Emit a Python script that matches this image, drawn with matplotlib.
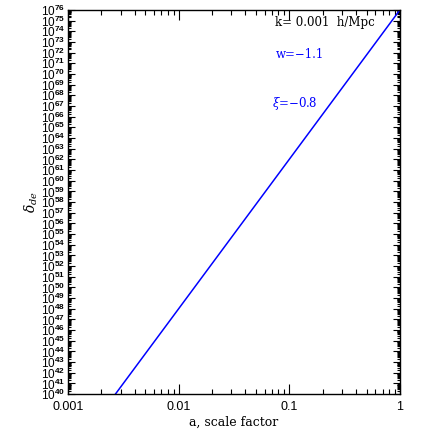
import numpy as np
import matplotlib.pyplot as plt
from matplotlib.ticker import LogLocator, FixedLocator, FixedFormatter, NullFormatter

# values: delta_de vs scale factor
a = [0.00268, 0.01, 0.1, 1.0]
log_delta = [40, 48, 62, 76]
delta = [10.0**v for v in log_delta]

ydecades = list(range(40, 77))
xticks = [0.001, 0.01, 0.1, 1]
xlabels = ["0.001", "0.01", "0.1", "1"]

plt.rcParams["mathtext.fontset"] = "custom"
plt.rcParams["mathtext.rm"] = "Liberation Sans"
plt.rcParams["mathtext.it"] = "DejaVu Serif:italic"
plt.rcParams["mathtext.bf"] = "Liberation Sans:bold"

fig = plt.figure(figsize=(4.36, 4.36), dpi=100)
ax = fig.add_axes([0.156, 0.096, 0.761, 0.881])

ax.plot(a, delta, color="#0000ff", lw=1.1)

ax.set_xscale("log")
ax.set_yscale("log")
ax.set_xlim(0.001, 1)
ax.set_ylim(1e40, 1e76)

ax.xaxis.set_major_locator(FixedLocator(xticks))
ax.xaxis.set_major_formatter(FixedFormatter(xlabels))
ax.xaxis.set_minor_locator(LogLocator(base=10, subs=np.arange(2, 10), numticks=20))
ax.xaxis.set_minor_formatter(NullFormatter())

ax.yaxis.set_major_locator(FixedLocator([10.0**d for d in ydecades]))
ax.yaxis.set_major_formatter(FixedFormatter([r"$\mathrm{10}^{\mathbf{%d}}$" % d for d in ydecades]))
ax.yaxis.set_minor_locator(LogLocator(base=10, subs=np.arange(2, 10), numticks=100))
ax.yaxis.set_minor_formatter(NullFormatter())

ax.tick_params(which="both", direction="in", top=True, right=True, width=0.8)
ax.tick_params(axis="x", which="major", length=7)
ax.tick_params(axis="x", which="minor", length=3.5)
ax.tick_params(axis="y", which="major", length=5)
ax.tick_params(axis="y", which="minor", length=2.5)
ax.tick_params(axis="y", labelsize=8.5, pad=2)
ax.tick_params(axis="x", labelsize=9, pad=5)
for lab in ax.get_xticklabels():
    lab.set_family("Liberation Sans")
for s in ax.spines.values():
    s.set_linewidth(1.0)

ax.set_xlabel("a, scale factor", family="DejaVu Serif", fontsize=9, labelpad=2)
ax.set_ylabel(r"$\delta_{de}$", fontsize=10, labelpad=1)

ax.text(0.625, 0.985, "k= 0.001  h/Mpc", transform=ax.transAxes, family="DejaVu Serif",
        fontsize=8.5, va="top", ha="left")
ax.text(0.625, 0.9, "w=\u22121.1", transform=ax.transAxes, color="#0000ff",
        family="DejaVu Serif", fontsize=8.5, va="top", ha="left")
ax.text(0.615, 0.78, r"$\xi$=" + "\u22120.8", transform=ax.transAxes, color="#0000ff",
        family="DejaVu Serif", fontsize=8.5, va="top", ha="left")

fig.savefig("out.png", dpi=100)
